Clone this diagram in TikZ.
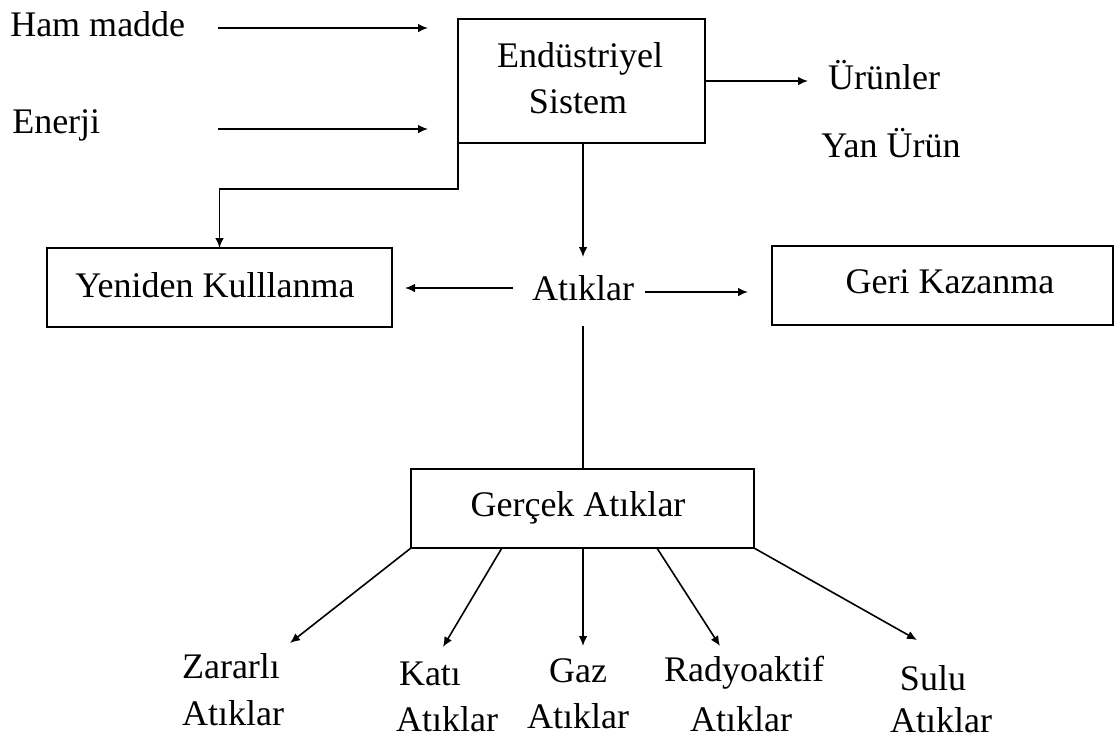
\documentclass[tikz,border=0pt]{standalone}
\usepackage{fontspec}
\setmainfont{Liberation Serif}
\usetikzlibrary{arrows.meta,calc}
\begin{document}
\begin{tikzpicture}[x=0.75pt,y=-0.75pt,
  lbl/.style={font=\fontsize{27pt}{32pt}\selectfont, inner sep=0pt, anchor=base},
  lblw/.style={lbl, anchor=base west},
  box/.style={draw, line width=1.4pt, inner sep=0pt, outer sep=0pt},
  arr/.style={line width=1.2pt, -{Latex[length=7.5pt,width=6.5pt]}},
  ln/.style={line width=1.2pt}]
\path[use as bounding box] (0,0) rectangle (1115,740);

% boxes
\node[box, minimum width=185.25pt, minimum height=93pt] (endus) at (581.5,81) {};
\node[box, minimum width=258.75pt, minimum height=59.25pt] (yeniden) at (219.5,287.5) {};
\node[box, minimum width=255.75pt, minimum height=59.25pt] (geri) at (942.5,285.5) {};
\node[box, minimum width=257.25pt, minimum height=59.25pt] (gercek) at (582.5,508.5) {};

% texts
\node[lblw] (ham) at (10,36) {Ham madde};
\node[lblw] (enerji) at (12,133) {Enerji};
\node[lbl] (endusT1) at (580,67) {Endüstriyel};
\node[lbl] (endusT2) at (578,113) {Sistem};
\node[lbl] (urun) at (884,89) {Ürünler};
\node[lbl] (yan) at (891,157) {Yan Ürün};
\node[lbl] (yenidenT) at (215,297) {Yeniden Kulllanma};
\node[lbl] (atik) at (583,300) {Atıklar};
\node[lbl] (geriT) at (950,293) {Geri Kazanma};
\node[lbl] (gercekT) at (578,516) {Gerçek Atıklar};

\node[lbl] (z1) at (231,678) {Zararlı};
\node[lbl] (z2) at (233,725) {Atıklar};
\node[lbl] (k1) at (430,685) {Katı};
\node[lbl] (k2) at (447,731) {Atıklar};
\node[lbl] (g1) at (578,682) {Gaz};
\node[lbl] (g2) at (578,728) {Atıklar};
\node[lbl] (r1) at (744,681) {Radyoaktif};
\node[lbl] (r2) at (741,731) {Atıklar};
\node[lbl] (s1) at (933,690) {Sulu};
\node[lbl] (s2) at (941,732) {Atıklar};

% connector end points
\coordinate (hamA) at (218,28);
\coordinate (hamB) at (428,28);
\coordinate (enA) at (218,129);
\coordinate (enB) at (428,129);
\coordinate (urunA) at (808,81);
\coordinate (atikTop) at (583,257);
\coordinate (bend) at (458,189);
\coordinate (atL) at (513,288);
\coordinate (yenR) at (405,288);
\coordinate (atR) at (645,292);
\coordinate (geriL) at (748,292);
\coordinate (atBot) at (583,326);
\coordinate (zT) at (290,643);
\coordinate (kT) at (443,647);
\coordinate (gT) at (583,646);
\coordinate (rT) at (720,646);
\coordinate (sT) at (917,640);

% connectors
\draw[arr] (hamA) -- (hamB);
\draw[arr] (enA) -- (enB);
\draw[arr] (endus.east) -- (urunA);
\draw[arr] (endus.south -| atikTop) -- (atikTop);
\draw[arr] (endus.south west) -- (endus.south west |- bend) -| (yeniden.north);
\draw[arr] (atL) -- (yenR);
\draw[arr] (atR) -- (geriL);
\draw[ln] (atBot) -- (gercek.north -| atBot);

\draw[arr] (gercek.south west) -- (zT);
\draw[arr] ($(gercek.south west)!0.265!(gercek.south east)$) -- (kT);
\draw[arr] (gercek.south -| gT) -- (gT);
\draw[arr] ($(gercek.south west)!0.717!(gercek.south east)$) -- (rT);
\draw[arr] (gercek.south east) -- (sT);
\end{tikzpicture}
\end{document}
